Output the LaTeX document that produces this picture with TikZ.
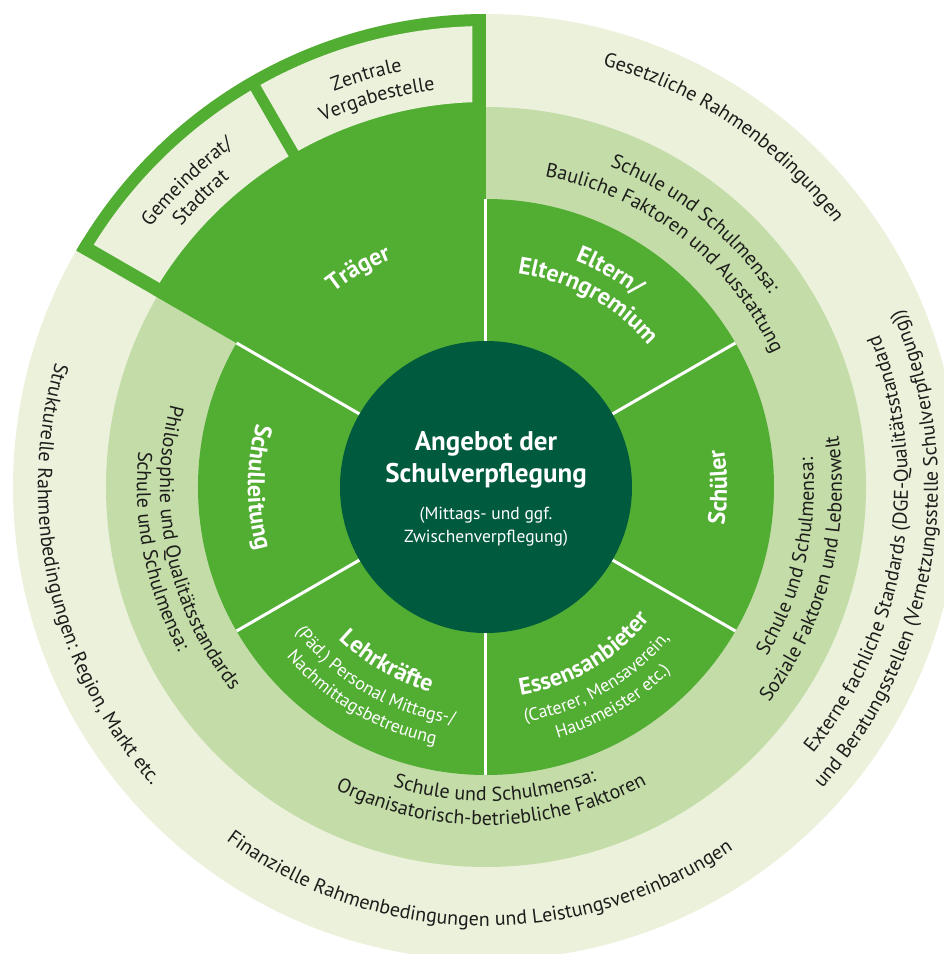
\documentclass[tikz,border=0pt]{standalone}
\usepackage{fontspec}
\setmainfont{PT Sans}
\usepackage{tikz}
\usetikzlibrary{decorations.text,positioning}

\definecolor{palegreen}{HTML}{ECF1DC}
\definecolor{midgreen}{HTML}{C3DCA8}
\definecolor{leafgreen}{HTML}{52AD33}
\definecolor{darkgreen}{HTML}{005A3E}
\definecolor{inkblack}{HTML}{1D1D1B}

\newcommand{\ringfont}{\fontsize{20}{24}\selectfont}
\newcommand{\labelfont}{\bfseries\fontsize{24}{28}\selectfont}
\newcommand{\notefont}{\fontsize{18}{22}\selectfont}

\tikzstyle{divider} = [draw=white, line width=3pt]
\tikzstyle{title} = [text=white, font=\bfseries\fontsize{27}{32}\selectfont, anchor=base, inner sep=0pt]
\tikzstyle{subtitle} = [text=white, font=\fontsize{17.5}{24}\selectfont, anchor=base, inner sep=0pt]

% text on an arc: radius, middle angle, text
% clockwise = tops outwards, counter-clockwise = tops inwards
\newcommand{\cwtext}[4][inkblack]{%
  \path[decorate, decoration={text along path, text align=center, text color=#1, text={#4}}]
    ({#3+80}:#2) arc[start angle={#3+80}, end angle={#3-80}, radius=#2];}
\newcommand{\ccwtext}[4][inkblack]{%
  \path[decorate, decoration={text along path, text align=center, text color=#1, text={#4}}]
    ({#3-80}:#2) arc[start angle={#3-80}, end angle={#3+80}, radius=#2];}

\begin{document}
\begin{tikzpicture}[x=1pt, y=1pt]
    \useasboundingbox (-486,-467) rectangle (458,487);
    \clip (-486,-467) rectangle (458,487);

    % rings
    \fill[palegreen] (0,0) circle[radius=473];
    \fill[midgreen] (0,0) circle[radius=380];
    \fill[leafgreen] (0,0) circle[radius=288];

    % Traeger wedge with its two boxes
    \fill[leafgreen] (0,0) -- (90:473) arc[start angle=90, end angle=150, radius=473] -- cycle;
    \fill[palegreen] (90:385) -- (90:461) arc[start angle=90, end angle=150, radius=461]
        -- (150:385) arc[start angle=150, end angle=90, radius=385] -- cycle;
    \begin{scope}
        \clip (0,0) -- (90:473) arc[start angle=90, end angle=150, radius=473] -- cycle;
        \draw[leafgreen, line width=27pt] (0,0) -- (90:473) (0,0) -- (150:473);
    \end{scope}
    \draw[leafgreen, line width=11pt] (120:380) -- (120:466);

    % sector lines
    \foreach \a in {30,90,...,330}
        \draw[divider] (\a:140) -- (\a:288);

    % centre
    \fill[darkgreen] (0,0) circle[radius=146];
    \node[title] (angebot) at (0,37) {Angebot der};
    \node[title] (schulverpfl) at (0,5) {Schulverpflegung};
    \node[subtitle] (mittags) at (0,-32) {(Mittags- und ggf.};
    \node[subtitle] (zwischen) at (0,-55) {Zwischenverpflegung)};

    % sector labels
    \cwtext[white]{247}{120.3}{|\labelfont|Träger}
    \cwtext[white]{243}{60.1}{|\labelfont|Eltern/}
    \cwtext[white]{216}{61.3}{|\labelfont|Elterngremium}
    \ccwtext[white]{241}{0}{|\labelfont|Schüler}
    \ccwtext[white]{238}{180}{|\labelfont|Schulleitung}
    \ccwtext[white]{211}{300.3}{|\labelfont|Essensanbieter}
    \ccwtext[white]{238}{300}{|\notefont|(Caterer, Mensaverein,}
    \ccwtext[white]{261}{300.5}{|\notefont|Hausmeister etc.)}
    \ccwtext[white]{212}{240.4}{|\labelfont|Lehrkräfte}
    \ccwtext[white]{239}{239.8}{|\notefont|(Päd.) Personal Mittags-/}
    \ccwtext[white]{262}{239.6}{|\notefont|Nachmittagsbetreuung}

    % Traeger boxes
    \cwtext{424}{106.2}{|\ringfont|Zentrale}
    \cwtext{400}{105.7}{|\ringfont|Vergabestelle}
    \cwtext{424}{134.4}{|\ringfont|Gemeinderat/}
    \cwtext{401}{134.6}{|\ringfont|Stadtrat}

    % middle ring
    \cwtext{343}{51.5}{|\ringfont|Schule und Schulmensa:}
    \cwtext{316}{52.1}{|\ringfont|Bauliche Faktoren und Ausstattung}
    \ccwtext{328}{347}{|\ringfont|Schule und Schulmensa:}
    \ccwtext{356}{345.5}{|\ringfont|Soziale Faktoren und Lebenswelt}
    \ccwtext{314}{271.7}{|\ringfont|Schule und Schulmensa:}
    \ccwtext{338}{271}{|\ringfont|Organisatorisch-betriebliche Faktoren}
    \ccwtext{326}{192}{|\ringfont|Philosophie und Qualitätsstandards}
    \ccwtext{349}{191.2}{|\ringfont|Schule und Schulmensa:}

    % outer ring
    \cwtext{437}{55.8}{|\ringfont|Gesetzliche Rahmenbedingungen}
    \ccwtext{422}{351}{|\ringfont|Externe fachliche Standards (DGE-Qualitätsstandard}
    \ccwtext{452}{350.6}{|\ringfont|und Beratungsstellen (Vernetzungsstelle Schulverpflegung))}
    \ccwtext{439}{269}{|\ringfont|Finanzielle Rahmenbedingungen und Leistungsvereinbarungen}
    \ccwtext{448}{192.8}{|\ringfont|Strukturelle Rahmenbedingungen: Region, Markt etc.}
\end{tikzpicture}
\end{document}
